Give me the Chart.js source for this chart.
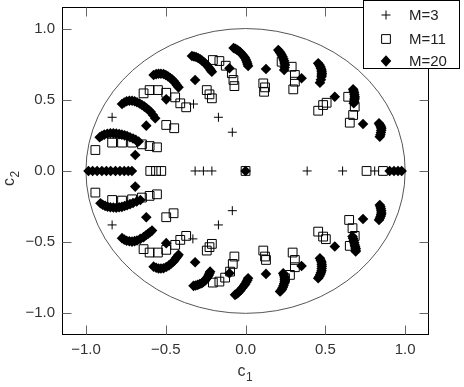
<!DOCTYPE html>
<html><head><meta charset="utf-8">
<script src="https://cdn.jsdelivr.net/npm/chart.js@4.4.0/dist/chart.umd.min.js"></script>
<style>html,body{margin:0;padding:0;background:#fff}canvas{display:block}</style>
</head><body>
<canvas id="c" width="464" height="387"></canvas>
<script>
const seriesNames = ['M=3', 'M=11', 'M=20'];
const xTicks = [-1.0, -0.5, 0.0, 0.5, 1.0];
const yTicks = [-1.0, -0.5, 0.0, 0.5, 1.0];
const xTitle = ['c', '1'];
const yTitle = ['c', '2'];
const circleRadius = 1.0;

const m3Points = [[-0.836, 0.377], [-0.326, 0.470], [-0.17, 0.377], [-0.083, 0.272],
  [-0.836, -0.379], [-0.33, -0.477], [-0.17, -0.379], [-0.083, -0.279],
  [-0.316, 0], [-0.264, 0], [-0.211, 0], [0.386, 0], [0.608, 0], [0.809, 0]];

const m11Points = [[-0.941, 0.147], [-0.836, 0.199], [-0.774, 0.199], [-0.711, 0.199], [-0.649, 0.187], [-0.601, 0.175], [-0.555, 0.166],
  [-0.639, 0.545], [-0.601, 0.568], [-0.549, 0.568], [-0.497, 0.549], [-0.441, 0.517], [-0.409, 0.475], [-0.372, 0.447],
  [-0.497, 0.323], [-0.447, 0.300], [-0.243, 0.568], [-0.226, 0.538], [-0.211, 0.510],
  [-0.205, 0.779], [-0.164, 0.772], [-0.124, 0.739], [-0.086, 0.686], [-0.076, 0.639], [-0.07, 0.596],
  [0.111, 0.615], [0.122, 0.587], [0.116, 0.556],
  [0.226, 0.767], [0.289, 0.732], [0.309, 0.674], [0.309, 0.627], [0.299, 0.573],
  [0.455, 0.423], [0.486, 0.463], [0.508, 0.479], [0.643, 0.521], [0.684, 0.451], [0.674, 0.393], [0.653, 0.339],
  [-0.597, 0], [-0.561, 0], [-0.528, 0], [0, 0], [0.758, 0], [0.861, 0],
  [-0.941, -0.152], [-0.836, -0.204], [-0.774, -0.208], [-0.711, -0.199], [-0.649, -0.187], [-0.601, -0.175], [-0.555, -0.164],
  [-0.497, -0.325], [-0.451, -0.297],
  [-0.639, -0.549], [-0.601, -0.573], [-0.549, -0.573], [-0.497, -0.554], [-0.441, -0.519], [-0.409, -0.484], [-0.372, -0.456],
  [-0.243, -0.559], [-0.226, -0.535], [-0.211, -0.512],
  [-0.205, -0.784], [-0.164, -0.777], [-0.128, -0.749], [-0.097, -0.707], [-0.08, -0.653], [-0.07, -0.601],
  [0.111, -0.559], [0.122, -0.601], [0.128, -0.625],
  [0.295, -0.573], [0.309, -0.625], [0.309, -0.676], [0.278, -0.730], [0.247, -0.753],
  [0.455, -0.426], [0.486, -0.461], [0.503, -0.479], [0.649, -0.344], [0.670, -0.402], [0.684, -0.456], [0.653, -0.526]];

const m20Points = [
  [-0.984, 0], [-0.958, 0], [-0.93, 0], [-0.9, 0], [-0.872, 0], [-0.845, 0], [-0.815, 0], [-0.787, 0], [-0.76, 0], [-0.735, 0], [-0.712, 0],
  [0.903, 0], [0.93, 0], [0.955, 0], [0.978, 0], [0, 0],
  [-0.914, 0.237], [-0.9, 0.247], [-0.885, 0.255], [-0.866, 0.261], [-0.847, 0.265], [-0.828, 0.264], [-0.81, 0.262], [-0.792, 0.259],
  [-0.775, 0.255], [-0.758, 0.25], [-0.742, 0.245], [-0.724, 0.237], [-0.705, 0.228], [-0.688, 0.218], [-0.670, 0.207], [-0.691, 0.112],
  [-0.774, 0.470], [-0.76, 0.481], [-0.745, 0.49], [-0.728, 0.493], [-0.711, 0.493], [-0.695, 0.489], [-0.68, 0.483], [-0.664, 0.474],
  [-0.649, 0.463], [-0.634, 0.452], [-0.62, 0.44], [-0.607, 0.428], [-0.595, 0.415], [-0.58, 0.393], [-0.566, 0.370], [-0.622, 0.318],
  [-0.576, 0.674], [-0.56, 0.68], [-0.545, 0.683], [-0.53, 0.683], [-0.514, 0.681], [-0.5, 0.674], [-0.487, 0.665], [-0.474, 0.655],
  [-0.461, 0.644], [-0.45, 0.631], [-0.44, 0.617], [-0.43, 0.602], [-0.42, 0.587], [-0.497, 0.503],
  [-0.336, 0.807], [-0.323, 0.804], [-0.31, 0.8], [-0.297, 0.793], [-0.284, 0.784], [-0.273, 0.775], [-0.262, 0.765], [-0.252, 0.755],
  [-0.243, 0.744], [-0.234, 0.732], [-0.225, 0.72], [-0.218, 0.708], [-0.211, 0.697], [-0.316, 0.639], [-0.101, 0.721],
  [-0.075, 0.863], [-0.065, 0.858], [-0.055, 0.852], [-0.044, 0.844], [-0.034, 0.835], [-0.026, 0.825], [-0.018, 0.815], [-0.01, 0.804],
  [-0.003, 0.793], [0.003, 0.779], [0.008, 0.765], [0.012, 0.751], [0.016, 0.737], [0.128, 0.716],
  [0.205, 0.849], [0.213, 0.838], [0.22, 0.826], [0.226, 0.814], [0.232, 0.802], [0.237, 0.788], [0.241, 0.774], [0.244, 0.759],
  [0.247, 0.744], [0.245, 0.726], [0.242, 0.709], [0.351, 0.651],
  [0.455, 0.756], [0.462, 0.745], [0.468, 0.733], [0.472, 0.721], [0.476, 0.709], [0.477, 0.697], [0.478, 0.685], [0.477, 0.673],
  [0.476, 0.662], [0.472, 0.641], [0.466, 0.620], [0.559, 0.521],
  [0.674, 0.573], [0.677, 0.561], [0.68, 0.55], [0.682, 0.535], [0.684, 0.521], [0.683, 0.51], [0.682, 0.50], [0.68, 0.487], [0.678, 0.475],
  [0.736, 0.330],
  [0.836, 0.335], [0.84, 0.326], [0.845, 0.318], [0.848, 0.309], [0.851, 0.300], [0.85, 0.285], [0.848, 0.27], [0.845, 0.255], [0.841, 0.241],
  [-0.909, -0.227], [-0.895, -0.237], [-0.88, -0.245], [-0.864, -0.251], [-0.847, -0.255], [-0.828, -0.257], [-0.81, -0.258], [-0.792, -0.255],
  [-0.775, -0.252], [-0.758, -0.246], [-0.742, -0.24], [-0.724, -0.233], [-0.705, -0.225], [-0.682, -0.215], [-0.659, -0.204], [-0.691, -0.110],
  [-0.774, -0.472], [-0.76, -0.482], [-0.745, -0.49], [-0.728, -0.494], [-0.711, -0.496], [-0.695, -0.493], [-0.68, -0.488], [-0.66, -0.477],
  [-0.639, -0.465], [-0.624, -0.452], [-0.61, -0.44], [-0.598, -0.43], [-0.586, -0.419], [-0.622, -0.325],
  [-0.576, -0.672], [-0.56, -0.68], [-0.545, -0.685], [-0.53, -0.685], [-0.514, -0.683], [-0.497, -0.674], [-0.48, -0.663], [-0.465, -0.65],
  [-0.451, -0.636], [-0.443, -0.624], [-0.435, -0.612], [-0.427, -0.6], [-0.42, -0.589], [-0.497, -0.507],
  [-0.326, -0.807], [-0.313, -0.804], [-0.3, -0.8], [-0.287, -0.794], [-0.274, -0.788], [-0.265, -0.78], [-0.256, -0.772], [-0.25, -0.763],
  [-0.243, -0.753], [-0.236, -0.742], [-0.23, -0.73], [-0.226, -0.718], [-0.222, -0.707], [-0.316, -0.641], [-0.101, -0.718],
  [-0.066, -0.870], [-0.056, -0.863], [-0.047, -0.855], [-0.038, -0.845], [-0.03, -0.835], [-0.02, -0.82], [-0.009, -0.805], [-0.002, -0.793],
  [0.005, -0.78], [0.011, -0.767], [0.016, -0.753], [0.128, -0.723],
  [0.236, -0.718], [0.24, -0.731], [0.244, -0.745], [0.245, -0.76], [0.245, -0.775], [0.242, -0.79], [0.238, -0.805], [0.233, -0.818],
  [0.228, -0.83], [0.222, -0.839], [0.216, -0.847], [0.351, -0.667],
  [0.466, -0.613], [0.471, -0.627], [0.476, -0.64], [0.477, -0.655], [0.478, -0.67], [0.477, -0.685], [0.476, -0.70], [0.472, -0.714],
  [0.468, -0.728], [0.462, -0.741], [0.455, -0.753], [0.559, -0.531],
  [0.67, -0.46], [0.674, -0.475], [0.678, -0.49], [0.681, -0.505], [0.684, -0.52], [0.687, -0.533], [0.69, -0.545], [0.69, -0.556], [0.69, -0.566],
  [0.736, -0.337],
  [0.841, -0.239], [0.845, -0.252], [0.848, -0.265], [0.85, -0.28], [0.851, -0.295], [0.849, -0.308], [0.846, -0.32], [0.841, -0.332], [0.836, -0.344]];

const toPts = arr => arr.map(p => ({x: p[0], y: p[1]}));
const FONT = "'Liberation Sans', Arial, sans-serif";
const fmt = v => (v < 0 ? '\u2212' : '') + Math.abs(v).toFixed(1);

const styles = [
  {pointStyle: 'cross', radius: 4.5, borderColor: '#000', backgroundColor: '#000', borderWidth: 1},
  {pointStyle: 'rect', radius: 6.2, borderColor: '#000', backgroundColor: 'rgba(0,0,0,0)', borderWidth: 1},
  {pointStyle: 'rectRot', radius: 5.3, borderColor: '#000', backgroundColor: '#000', borderWidth: 0}
];

function drawSymbol(ctx, st, x, y) {
  ctx.save();
  ctx.strokeStyle = st.borderColor; ctx.fillStyle = st.backgroundColor; ctx.lineWidth = 1;
  ctx.beginPath();
  const r = st.radius;
  if (st.pointStyle === 'cross') {
    ctx.moveTo(x - r, y); ctx.lineTo(x + r, y); ctx.moveTo(x, y - r); ctx.lineTo(x, y + r); ctx.stroke();
  } else if (st.pointStyle === 'rect') {
    const s = r * Math.SQRT1_2; ctx.rect(x - s, y - s, 2 * s, 2 * s); ctx.stroke();
  } else {
    ctx.moveTo(x, y - r - 0.5); ctx.lineTo(x + r, y); ctx.lineTo(x, y + r + 0.5); ctx.lineTo(x - r, y); ctx.closePath(); ctx.fill();
  }
  ctx.restore();
}

function drawSubTitle(ctx, parts, x, y) {
  ctx.font = '16px ' + FONT;
  ctx.textAlign = 'left';
  ctx.textBaseline = 'alphabetic';
  ctx.fillText(parts[0], x, y);
  const w = ctx.measureText(parts[0]).width;
  ctx.font = '12px ' + FONT;
  ctx.fillText(parts[1], x + w + 0.5, y + 5);
}

const decor = {
  id: 'decor',
  beforeDatasetsDraw(chart) {
    const {ctx, scales: {x, y}} = chart;
    const cx = x.getPixelForValue(0), cy = y.getPixelForValue(0);
    const rx = x.getPixelForValue(circleRadius) - cx;
    const ry = cy - y.getPixelForValue(circleRadius);
    ctx.save();
    ctx.strokeStyle = '#555'; ctx.lineWidth = 1;
    ctx.beginPath(); ctx.ellipse(cx, cy, rx, ry, 0, 0, Math.PI * 2); ctx.stroke();
    ctx.restore();
  },
  afterDatasetsDraw(chart) {
    const {ctx, chartArea: a, scales: {x, y}} = chart;
    ctx.save();
    ctx.lineWidth = 1;
    ctx.strokeStyle = '#000';
    const L = Math.round(a.left) + 0.5, R = Math.round(a.right) + 0.5;
    const T = Math.round(a.top) + 0.5, B = Math.round(a.bottom) + 0.5;
    ctx.strokeRect(L, T, R - L, B - T);
    ctx.strokeStyle = '#666';
    const tl = 9;
    ctx.beginPath();
    xTicks.forEach(v => {
      const p = Math.round(x.getPixelForValue(v)) + 0.5;
      ctx.moveTo(p, B); ctx.lineTo(p, B - tl);
      ctx.moveTo(p, T); ctx.lineTo(p, T + tl);
    });
    yTicks.forEach(v => {
      const p = Math.round(y.getPixelForValue(v)) + 0.5;
      ctx.moveTo(L, p); ctx.lineTo(L + tl, p);
      ctx.moveTo(R, p); ctx.lineTo(R - tl, p);
    });
    ctx.stroke();
    // axis titles
    ctx.fillStyle = '#333';
    drawSubTitle(ctx, xTitle, x.getPixelForValue(0) - 8, 376);
    ctx.save();
    ctx.translate(14, y.getPixelForValue(0) + 15);
    ctx.rotate(-Math.PI / 2);
    drawSubTitle(ctx, yTitle, 0, 0);
    ctx.restore();
    // legend
    ctx.fillStyle = '#fff';
    ctx.fillRect(363.5, 0.5, 96, 68);
    ctx.strokeStyle = '#000';
    ctx.strokeRect(363.5, 0.5, 96, 68);
    const rows = [15, 39, 61];
    ctx.font = '15px ' + FONT;
    ctx.textBaseline = 'middle';
    ctx.textAlign = 'left';
    seriesNames.forEach((n, i) => {
      drawSymbol(ctx, styles[i], 386, rows[i]);
      ctx.fillStyle = '#222';
      ctx.fillText(n, 409, rows[i] + 1);
    });
    ctx.restore();
  }
};

const zeroPad = s => { s.paddingTop = 0; s.paddingBottom = 0; s.paddingLeft = 0; s.paddingRight = 0; };
const mk = (i, pts) => Object.assign({label: seriesNames[i], data: toPts(pts)}, styles[i], {pointRadius: styles[i].radius});

new Chart(document.getElementById('c'), {
  type: 'scatter',
  data: {datasets: [mk(0, m3Points), mk(1, m11Points), mk(2, m20Points)]},
  options: {
    responsive: false,
    animation: false,
    events: [],
    layout: {padding: {left: 0, right: 36, top: 7, bottom: 0}},
    plugins: {legend: {display: false}, tooltip: {enabled: false}},
    scales: {
      x: {
        type: 'linear', position: 'bottom', min: -1.15, max: 1.143,
        grid: {display: false, drawTicks: false}, border: {display: false},
        afterBuildTicks: s => { s.ticks = xTicks.map(v => ({value: v})); },
        afterFit: s => { s.height = 53; zeroPad(s); },
        ticks: {font: {family: FONT, size: 15}, color: '#333', padding: 7, maxRotation: 0, callback: v => fmt(v)},
        title: {display: false}
      },
      y: {
        type: 'linear', position: 'left', min: -1.145, max: 1.15,
        grid: {display: false, drawTicks: false}, border: {display: false},
        afterBuildTicks: s => { s.ticks = yTicks.map(v => ({value: v})); },
        afterFit: s => { s.width = 62; zeroPad(s); },
        ticks: {font: {family: FONT, size: 15}, color: '#333', padding: 7, callback: v => fmt(v)},
        title: {display: false}
      }
    }
  },
  plugins: [decor]
});
</script>
</body></html>
